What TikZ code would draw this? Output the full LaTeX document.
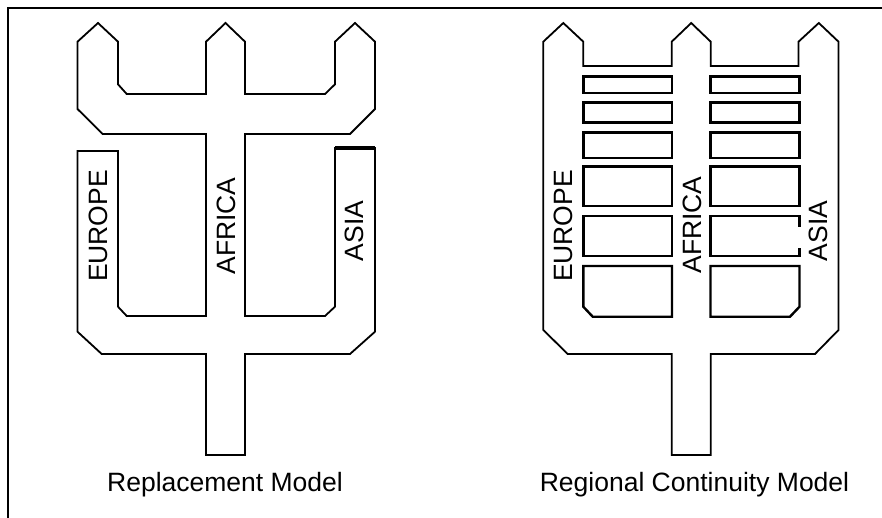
\documentclass[tikz,border=0pt]{standalone}
\usepackage{fontspec}
\setmainfont{Liberation Sans}
\begin{document}
\begin{tikzpicture}[x=1pt,y=-1pt,
  outline/.style={draw=black,line width=1.8pt,line join=miter},
  bar/.style={draw=black,line width=2.4pt,line join=miter},
  frame/.style={draw=black,line width=2pt},
  region/.style={inner sep=0pt,font=\fontsize{26.5}{30}\selectfont,rotate=90},
  caption/.style={inner sep=0pt,anchor=base,font=\fontsize{26.5}{30}\selectfont}]
\useasboundingbox (0,0) rectangle (882,518);
% frame
\draw[frame] (8,520) -- (8,8) -- (884,8);
% ---------- Replacement Model ----------
\draw[outline] (98,23) -- (118,41.7) -- (118,84.3) -- (126.7,94) -- (206,94) -- (206,41.7)
  -- (225.5,23) -- (245,41.7) -- (245,94) -- (325,94) -- (335,84.3) -- (335,41.7)
  -- (355,23) -- (375,41.7) -- (375,109) -- (350,134) -- (245,134) -- (245,316)
  -- (325,316) -- (335,306.7) -- (335,148) -- (375,148) -- (375,331.7) -- (350,354)
  -- (245,354) -- (245,455) -- (206,455) -- (206,354) -- (101.7,354) -- (77.5,331.7)
  -- (77.5,151) -- (118,151) -- (118,306.7) -- (126.7,316) -- (206,316) -- (206,134)
  -- (102.7,134) -- (77.5,109) -- (77.5,41.7) -- cycle;
\draw[line width=3.2pt] (335,148) -- (375,148);
\node[region] (eu1) at (98,226) {EUROPE};
\node[region] (af1) at (226,226) {AFRICA};
\node[region] (as1) at (354.5,231) {ASIA};
\node[caption] (cap1) at (225,491) {Replacement Model};
% ---------- Regional Continuity Model ----------
\draw[outline] (563.3,23) -- (583.3,41.7) -- (583.3,66) -- (671.7,66) -- (671.7,41.7)
  -- (691.2,23) -- (710.7,41.7) -- (710.7,66) -- (798.5,66) -- (798.5,41.7)
  -- (818.8,23) -- (838.5,41.7) -- (838.5,330) -- (815,354) -- (710.7,354)
  -- (710.7,455) -- (671.7,455) -- (671.7,354) -- (567.7,354) -- (543.3,330)
  -- (543.3,41.7) -- cycle;
% bars, left column
\draw[bar] (583.3,76.7) rectangle (672,93.3);
\draw[bar] (583.3,102.7) rectangle (672,122.7);
\draw[bar] (583.3,132.7) rectangle (672,158.3);
\draw[bar] (583.3,166.7) rectangle (672,206);
\draw[bar] (583.3,216) rectangle (672,256);
\draw[bar] (583.3,266) -- (672,266) -- (672,316.7) -- (592.7,316.7) -- (583.3,306.7) -- cycle;
% bars, right column
\draw[bar] (710.5,76.7) rectangle (799.5,93.3);
\draw[bar] (710.5,102.7) rectangle (799.5,122.7);
\draw[bar] (710.5,132.7) rectangle (799.5,158.3);
\draw[bar] (710.5,166.7) rectangle (799.5,206);
\draw[bar] (799.5,227) -- (799.5,216) -- (710.5,216) -- (710.5,256) -- (799.5,256) -- (799.5,248);
\draw[bar] (710.5,266) -- (799.5,266) -- (799.5,306.7) -- (790,316.7) -- (710.5,316.7) -- cycle;
\node[region] (eu2) at (563,226) {EUROPE};
\node[region] (af2) at (692,225) {AFRICA};
\node[region] (as2) at (818.5,231) {ASIA};
\node[caption] (cap2) at (694.5,491) {Regional Continuity Model};
\end{tikzpicture}
\end{document}
